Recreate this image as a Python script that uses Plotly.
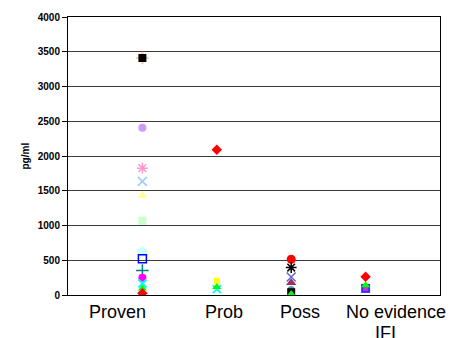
import plotly.graph_objects as go

# Category positions and labels
cat_pos = [1, 2, 3, 4]
cat_labels = ["Proven", "Prob", "Poss", "No evidence"]
cat_label_x = [0.66, 2.09, 3.12, 4.41]

# Series values per category (Proven, Prob, Poss, No evidence IFI)
red_diamond = [25, 2090, None, 262]
black_square = [3410, None, 40, None]
tan_plus = [3410, None, None, None]
lavender_circle = [2405, None, None, None]
rose_asterisk = [1825, None, None, None]
paleblue_x = [1635, None, None, None]
lightyellow_tri = [1430, None, None, None]
lightgreen_square = [1070, None, None, None]
turquoise_diamond = [625, None, None, None]
blue_open_square = [520, None, None, None]
teal_plus = [352, None, None, None]
magenta_circle = [248, None, None, None]
cyan_x = [165, 85, None, None]
green_tri = [95, 115, 15, 140]
yellow_square = [None, 205, 10, None]
red_circle = [None, None, 515, None]
black_asterisk = [None, None, 395, None]
slate_x = [None, None, 260, None]
plum_tri = [None, None, 175, None]
gray_circle = [None, None, 80, None]
blue_square = [None, None, None, 95]
purple_square = [None, None, None, 95]

series = [
    (tan_plus, "#FFCC99", "cross-thin-open", 9, 2),
    (lavender_circle, "#CC99FF", "circle", 8, 1),
    (rose_asterisk, "#FF99CC", "asterisk-open", 9, 1.5),
    (paleblue_x, "#99CCFF", "x-thin-open", 9, 1.5),
    (lightyellow_tri, "#FFFF99", "triangle-up", 9, 1),
    (lightgreen_square, "#CCFFCC", "square", 8, 1),
    (turquoise_diamond, "#CCFFFF", "diamond", 9, 1),
    (blue_open_square, "#0000FF", "square-open", 8, 1.5),
    (teal_plus, "#008080", "cross-thin-open", 9, 1.5),
    (magenta_circle, "#FF00FF", "circle", 8, 1),
    (cyan_x, "#00FFFF", "x-thin-open", 8, 2),
    (yellow_square, "#FFFF00", "square", 6, 1),
    (red_circle, "#FF0000", "circle", 9, 1),
    (black_asterisk, "#000000", "asterisk-open", 9, 1.5),
    (slate_x, "#6666CC", "x-thin-open", 9, 1.5),
    (plum_tri, "#993366", "triangle-up", 9, 1),
    (gray_circle, "#669999", "circle", 7, 1),
    (black_square, "#000000", "square", 8, 1),
    (blue_square, "#3333FF", "square", 9, 1),
    (purple_square, "#CC33CC", "square", 5, 1),
    (green_tri, "#00FF00", "triangle-up", 8, 1),
    (red_diamond, "#FF0000", "diamond", 8, 1),
]

fig = go.Figure()
for vals, color, sym, size, lw in series:
    xs = [p for p, v in zip(cat_pos, vals) if v is not None]
    ys = [v for v in vals if v is not None]
    is_open = "open" in sym
    fig.add_trace(go.Scatter(
        x=xs, y=ys, mode="markers", showlegend=False,
        marker=dict(symbol=sym, size=size, color=color,
                    line=dict(color=color, width=lw if is_open else 0)),
    ))

fig.update_layout(
    width=452, height=338,
    margin=dict(l=68, r=11, t=15, b=43),
    paper_bgcolor="white", plot_bgcolor="white",
    font=dict(family="Liberation Sans, Arial, sans-serif", color="black"),
    xaxis=dict(range=[0, 5], showticklabels=False, showgrid=False,
               zeroline=False, showline=True, linecolor="black", linewidth=1,
               mirror=True, ticks=""),
    yaxis=dict(range=[0, 4000], dtick=500, tickformat="d",
               showgrid=True, gridcolor="#3a3a3a", gridwidth=1,
               zeroline=False, showline=True, linecolor="black", linewidth=1,
               mirror=True, ticks="outside", ticklen=5, tickcolor="black",
               tickfont=dict(size=10, weight="bold", color="black")),
)

for lx, lab in zip(cat_label_x, cat_labels):
    fig.add_annotation(x=lx, xref="x", y=0, yref="paper", yanchor="top",
                       yshift=-5, text=lab, showarrow=False,
                       font=dict(size=18, color="black"))
fig.add_annotation(x=4.27, xref="x", y=0, yref="paper", yanchor="top",
                   yshift=-26, text="IFI", showarrow=False,
                   font=dict(size=18, color="black"))

fig.add_annotation(x=0, xref="paper", y=0.5, yref="paper", xshift=-51,
                   text="pg/ml", textangle=-90, showarrow=False,
                   font=dict(size=10, weight="bold", color="black"))

fig.write_html("out.html",
               config={"displayModeBar": False},
               post_script="document.body.style.margin='0';document.body.style.overflow='hidden';")
